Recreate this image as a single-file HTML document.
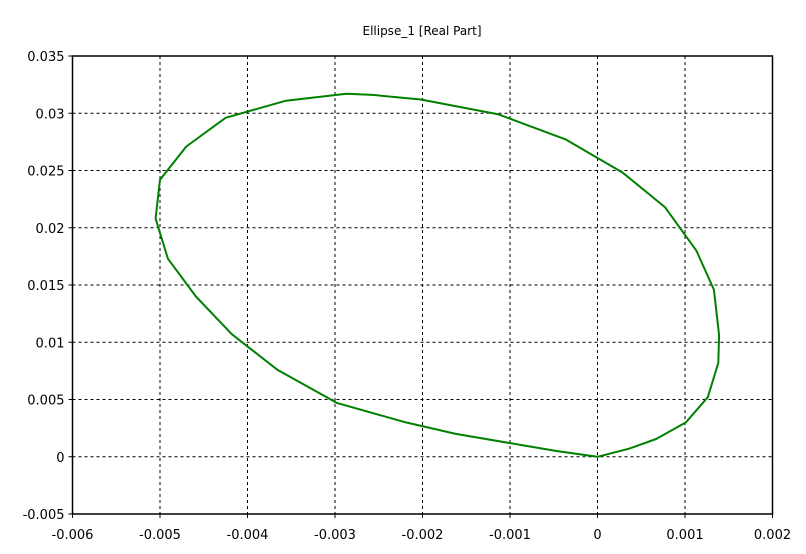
<!DOCTYPE html>
<html><head><meta charset="utf-8"><style>
body{margin:0;background:#fff;}
svg{display:block;font-family:"DejaVu Sans","Liberation Sans",sans-serif;}
</style></head><body>
<svg id="chart" width="806" height="554"></svg>
<script>
const xTicks=[-0.006,-0.005,-0.004,-0.003,-0.002,-0.001,0,0.001,0.002];
const xTickLabels=["-0.006","-0.005","-0.004","-0.003","-0.002","-0.001","0","0.001","0.002"];
const yTicks=[-0.005,0,0.005,0.01,0.015,0.02,0.025,0.03,0.035];
const yTickLabels=["-0.005","0","0.005","0.01","0.015","0.02","0.025","0.03","0.035"];
const xValues=[0,0.00036,0.00067,0.00101,0.00126,0.00138,0.00139,0.00133,0.00113,0.00077,0.00029,-0.00036,-0.00113,-0.00202,-0.00257,-0.00287,-0.00356,-0.00425,-0.00470,-0.00500,-0.00505,-0.00491,-0.00459,-0.00418,-0.00366,-0.00298,-0.00219,-0.00162,-0.00047,0];
const yValues=[0,0.0007,0.00155,0.0030,0.0052,0.0082,0.0106,0.0146,0.0180,0.0218,0.0248,0.0277,0.0299,0.0312,0.0316,0.0317,0.0311,0.0296,0.0271,0.0242,0.0208,0.0173,0.0140,0.0107,0.0076,0.0047,0.0030,0.0020,0.0005,0];
const L=72.5,R=772.5,T=56,B=514;
const X=v=>L+(v+0.006)/0.008*(R-L);
const Y=v=>B-(v+0.005)/0.04*(B-T);
const svg=document.getElementById('chart');
const NS='http://www.w3.org/2000/svg';
function mk(tag,attrs,parent){const e=document.createElementNS(NS,tag);for(const k in attrs)e.setAttribute(k,attrs[k]);(parent||svg).appendChild(e);return e;}
const title=mk('text',{x:422,y:35,'text-anchor':'middle','font-size':12,fill:'#000'});
title.textContent='Ellipse_1 [Real Part]';


xTicks.forEach((t,i)=>{
  const x=X(t);
  if(i>0&&i<xTicks.length-1){const g=mk('line',{x1:x,x2:x,y1:T,y2:B,stroke:'#000','stroke-dasharray':'3,3','stroke-width':1});
  
  }
  mk('line',{x1:x,x2:x,y1:B,y2:B+4,stroke:'#000'});
  const lb=mk('text',{x:x,y:B+25,'text-anchor':'middle','font-size':13,fill:'#000'});
  lb.textContent=xTickLabels[i];
  
  
});
yTicks.forEach((t,i)=>{
  const y=Y(t);
  if(i>0&&i<yTicks.length-1){const g=mk('line',{x1:L,x2:R,y1:y,y2:y,stroke:'#000','stroke-dasharray':'3,3','stroke-width':1});
  
  }
  mk('line',{x1:L-4,x2:L,y1:y,y2:y,stroke:'#000'});
  const lb=mk('text',{x:L-8,y:y+5,'text-anchor':'end','font-size':13,fill:'#000'});
  lb.textContent=yTickLabels[i];
  
  
});
const frame=mk('rect',{x:L,y:T,width:R-L,height:B-T,fill:'none',stroke:'#000','stroke-width':1.5});


const pts=xValues.map((v,i)=>X(v).toFixed(1)+','+Y(yValues[i]).toFixed(1)).join(' ');
const line=mk('polyline',{points:pts,fill:'none',stroke:'#008000','stroke-width':2,'stroke-linejoin':'round'});


</script>
</body></html>
